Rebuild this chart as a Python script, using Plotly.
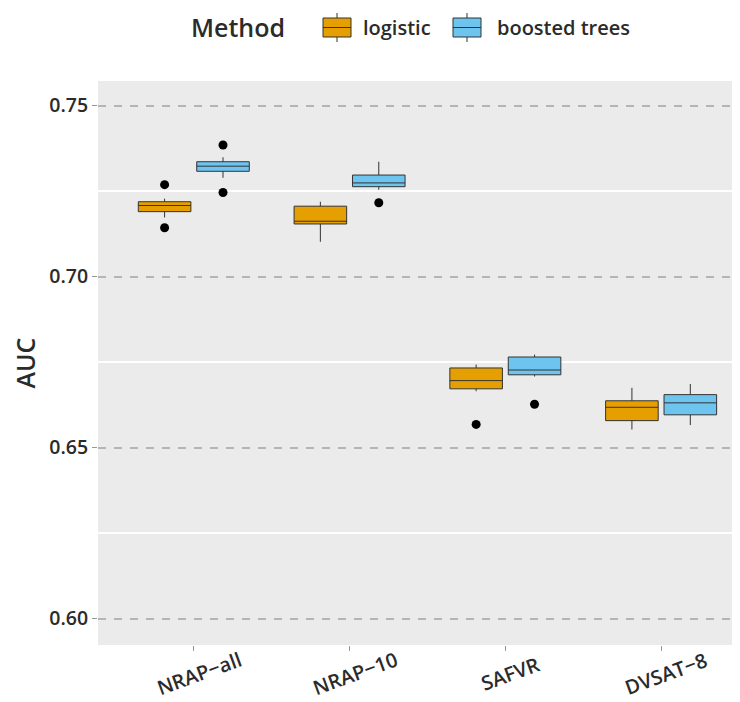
import plotly.graph_objects as go

categories = ["NRAP−all", "NRAP−10", "SAFVR", "DVSAT−8"]
methods = ["logistic", "boosted trees"]
colors = {"logistic": "#E69F00", "boosted trees": "#6DC5EF"}

# Box statistics per method (one value per category)
q1 = {
    "logistic": [0.7190, 0.7154, 0.6672, 0.6579],
    "boosted trees": [0.7308, 0.7263, 0.6713, 0.6596],
}
median = {
    "logistic": [0.7208, 0.7162, 0.6696, 0.6618],
    "boosted trees": [0.7323, 0.7274, 0.6727, 0.6631],
}
q3 = {
    "logistic": [0.7219, 0.7206, 0.6733, 0.6637],
    "boosted trees": [0.7336, 0.7297, 0.6765, 0.6655],
}
lower = {
    "logistic": [0.7173, 0.7102, 0.6665, 0.6553],
    "boosted trees": [0.7289, 0.7254, 0.6708, 0.6566],
}
upper = {
    "logistic": [0.7228, 0.7219, 0.6743, 0.6675],
    "boosted trees": [0.7349, 0.7336, 0.6772, 0.6686],
}
outliers = {
    "logistic": [[0.7269, 0.7143], [], [0.6568], []],
    "boosted trees": [[0.7385, 0.7246], [0.7216], [0.6627], []],
}

y_ticks = [0.60, 0.65, 0.70, 0.75]
y_tick_text = ["0.60", "0.65", "0.70", "0.75"]
legend_title = "Method"

FONT = "Open Sans"
TXT = "#2b2b2b"
OFF = 8  # default page body margin in the browser
W, H = 740 - OFF, 702 - OFF
ML, MR, MT, MB = 98 - OFF, 1, 81 - OFF, 57
PW, PH = W - ML - MR, H - MT - MB


def px_x(px):
    """screen x pixel -> paper coordinate"""
    return (px - OFF - ML) / PW


def px_y(py):
    """screen y pixel -> paper coordinate"""
    return 1 + (MT - (py - OFF)) / PH


fig = go.Figure()
for m in methods:
    fig.add_trace(go.Box(
        name=m,
        x=categories,
        q1=q1[m], median=median[m], q3=q3[m],
        lowerfence=lower[m], upperfence=upper[m],
        y=outliers[m],
        boxpoints="outliers",
        jitter=0, pointpos=0,
        marker=dict(color="black", size=9, line=dict(width=0)),
        fillcolor=colors[m],
        line=dict(color="#333333", width=1),
        whiskerwidth=0,
        offsetgroup=m,
        hoverinfo="skip",
        showlegend=False,
    ))

annotations = []
for c in categories:
    annotations.append(dict(
        x=c, xref="x", y=px_y(673), yref="paper",
        text=c, showarrow=False, textangle=-20,
        xanchor="center", yanchor="middle", xshift=5,
        font=dict(family=FONT, size=20, color=TXT, weight=600),
    ))

# Custom legend (title, key glyphs, labels)
shapes = []
annotations.append(dict(
    x=px_x(189), xref="paper", y=px_y(27), yref="paper",
    text=legend_title, showarrow=False, xanchor="left", yanchor="middle",
    font=dict(family=FONT, size=25, color=TXT, weight=600),
))
key_x = {"logistic": (323, 351), "boosted trees": (453, 481)}
label_x = {"logistic": 361, "boosted trees": 495}
for m in methods:
    x0, x1 = key_x[m]
    xc = (x0 + x1) / 2
    shapes.append(dict(type="line", xref="paper", yref="paper",
                       x0=px_x(xc), x1=px_x(xc), y0=px_y(13), y1=px_y(42),
                       line=dict(color="#333333", width=1)))
    shapes.append(dict(type="rect", xref="paper", yref="paper",
                       x0=px_x(x0), x1=px_x(x1), y0=px_y(37), y1=px_y(18),
                       fillcolor=colors[m], line=dict(color="#333333", width=1)))
    shapes.append(dict(type="line", xref="paper", yref="paper",
                       x0=px_x(x0), x1=px_x(x1), y0=px_y(27.5), y1=px_y(27.5),
                       line=dict(color="#333333", width=1)))
    annotations.append(dict(
        x=px_x(label_x[m]), xref="paper", y=px_y(27), yref="paper",
        text=m, showarrow=False, xanchor="left", yanchor="middle",
        font=dict(family=FONT, size=20, color=TXT, weight=600),
    ))

fig.update_layout(
    width=W, height=H,
    margin=dict(l=ML, r=MR, t=MT, b=MB, autoexpand=False),
    paper_bgcolor="white",
    plot_bgcolor="#EBEBEB",
    boxmode="group",
    boxgap=0.25,
    boxgroupgap=0.1,
    font=dict(family=FONT, color=TXT, weight=600),
    showlegend=False,
    annotations=annotations,
    shapes=shapes,
)

fig.update_xaxes(
    type="category",
    categoryorder="array", categoryarray=categories,
    range=[-0.615, 3.5],
    showgrid=False,
    showticklabels=False,
    ticks="outside", ticklen=5, tickcolor="#999999", tickwidth=1,
    zeroline=False, showline=False, automargin=False,
)

fig.update_yaxes(
    range=[0.5923, 0.7572],
    tickvals=y_ticks, ticktext=y_tick_text,
    tickfont=dict(family=FONT, size=19.5, color=TXT, weight=600),
    ticks="outside", ticklen=5, tickcolor="#999999", tickwidth=1,
    showgrid=True, gridcolor="#B5B5B5", gridwidth=1.5, griddash="8px,8px",
    minor=dict(tickvals=[0.625, 0.675, 0.725], showgrid=True,
               gridcolor="white", gridwidth=1.5, griddash="solid", ticks=""),
    zeroline=False, showline=False, automargin=False,
    title=dict(text="AUC", standoff=19,
               font=dict(family=FONT, size=25, color=TXT, weight=600)),
)

fig.write_html("out.html")
